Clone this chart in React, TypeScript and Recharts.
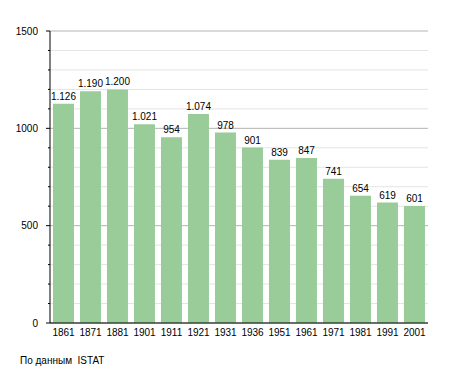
import { Bar, BarChart, CartesianGrid, XAxis, YAxis, LabelList } from 'recharts'

const years = ['1861', '1871', '1881', '1901', '1911', '1921', '1931', '1936', '1951', '1961', '1971', '1981', '1991', '2001']
const population = [1126, 1190, 1200, 1021, 954, 1074, 978, 901, 839, 847, 741, 654, 619, 601]
const yTicks = [0, 100, 200, 300, 400, 500, 600, 700, 800, 900, 1000, 1100, 1200, 1300, 1400, 1500]

const data = years.map((year, i) => ({ year, value: population[i] }))

const font = '"Liberation Sans", Arial, sans-serif'

function YTick(props: any) {
  const { x, y, payload } = props
  const major = payload.value % 500 === 0
  return (
    <g>
      <line x1={x - (major ? 4 : 2)} x2={x} y1={y} y2={y} stroke="#000" />
      {major && (
        <text x={x - 12} y={y} dy="0.355em" textAnchor="end" fontSize={10} fill="#000" fontFamily={font}>
          {payload.value}
        </text>
      )}
    </g>
  )
}

function gridLine(props: any) {
  const { x1, x2, y1, y2, index } = props
  const major = yTicks[index] % 500 === 0
  return <line key={`g-${index}`} x1={x1} x2={x2} y1={y1} y2={y2} stroke={major ? '#b4b4b4' : '#e4e4e4'} />
}

export default function App() {
  return (
    <div style={{ position: 'absolute', left: 0, top: 0, width: 455, height: 373, background: '#fff', fontFamily: font }}>
      <BarChart width={455} height={373} data={data} margin={{ top: 31, right: 27, left: 0, bottom: 30 }} barCategoryGap="11%">
        <CartesianGrid vertical={false} horizontal={gridLine} />
        <XAxis
          dataKey="year"
          tickLine={false}
          tickSize={4}
          height={20}
          interval={0}
          axisLine={{ stroke: '#000' }}
          tick={{ fontSize: 10, fill: '#000', fontFamily: font }}
        />
        <YAxis
          width={50}
          domain={[0, 1500]}
          ticks={yTicks}
          interval={0}
          tickLine={false}
          tickSize={0}
          tickMargin={0}
          axisLine={{ stroke: '#000' }}
          tick={<YTick />}
        />
        <Bar dataKey="value" fill="#99cc99" isAnimationActive={false}>
          <LabelList
            dataKey="value"
            position="top"
            offset={4}
            fontSize={10}
            fill="#000"
            fontFamily={font}
            formatter={(v: any) => Number(v).toLocaleString('de-DE')}
          />
        </Bar>
      </BarChart>
      <div style={{ position: 'absolute', left: 20, top: 355, fontSize: 10, color: '#000' }}>По данным&nbsp; ISTAT</div>
    </div>
  )
}
